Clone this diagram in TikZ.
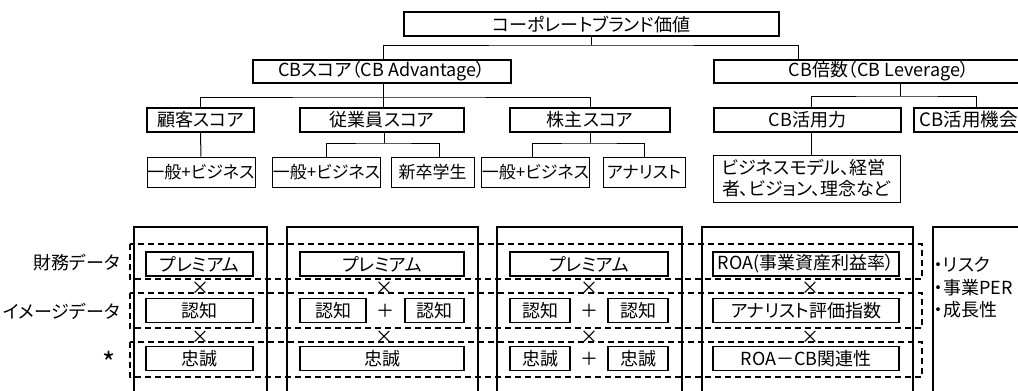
\documentclass[tikz,border=0pt]{standalone}
\usepackage{fontspec}
\setmainfont{Noto Sans CJK JP}[RawFeature={+palt}]
\begin{document}
\begin{tikzpicture}[x=1pt,y=-1pt,
  font=\fontsize{18}{21}\selectfont,
  bx/.style={draw, line width=1.8pt, inner sep=0pt, minimum height=24pt},
  tb/.style={draw, line width=1pt, inner sep=0pt, minimum height=30pt},
  ib/.style={draw, line width=1.8pt, inner sep=0pt, minimum height=24pt},
  conn/.style={line width=1pt},
  colline/.style={line width=1.8pt},
  dsh/.style={line width=1.2pt, dash pattern=on 6pt off 4pt},
  op/.style={inner sep=0pt},
  lab/.style={inner sep=0pt, anchor=east},
  note/.style={inner sep=0pt, anchor=west}]
\fill[white] (0,0) rectangle (1018,391);
\useasboundingbox (0,0) rectangle (1018,391);

% ---- tree ----
\node[bx, minimum width=375] (top) at (591.5,24) {コーポレートブランド価値};
\node[bx, minimum width=258, minimum height=23] (cbs) at (382,71.5) {CBスコア（CB Advantage）};
\node[bx, minimum width=330, minimum height=23] (cbb) at (879,71.5) {CB倍数（CB Leverage）};

\node[bx, minimum width=107] (cust) at (200.5,120) {顧客スコア};
\node[bx, minimum width=164] (emp) at (382,120) {従業員スコア};
\node[bx, minimum width=160] (sh) at (590,120) {株主スコア};
\node[bx, minimum width=187] (use) at (807.5,120) {CB活用力};
\node[bx, anchor=west, minimum width=150pt] (opp) at (913,120) {\makebox[138pt][l]{\fontsize{18.5}{21}\selectfont CB活用機会}};

\begin{scope}[font=\fontsize{17}{21}\selectfont]
\node[tb, minimum width=108] (c1) at (201,172) {一般+ビジネス};
\node[tb, minimum width=107] (e1) at (326.5,172) {一般+ビジネス};
\node[tb, minimum width=83] (e2) at (432.5,172) {新卒学生};
\node[tb, minimum width=103] (s1) at (535.5,172) {一般+ビジネス};
\node[tb, minimum width=82] (s2) at (644,172) {アナリスト};
\end{scope}
\node[tb, minimum width=187, minimum height=47, align=left] (bm) at (806.5,178.5) {ビジネスモデル、経営\\者、ビジョン、理念など};

% connectors
\draw[conn] (top.south) -- (591.5,45) coordinate (j1);
\draw[conn] (383,0 |- cbs.north) |- (j1) -| (798,0 |- cbb.north);
\draw[conn] (383,0 |- cbs.south) -- (383,0 |- emp.north);
\coordinate (j2) at (383,97);
\draw[conn] (cust.north) |- (j2) -| (sh.north);
\draw[conn] (900,0 |- cbb.south) -- (900,96) coordinate (j3);
\draw[conn] (811,0 |- use.north) |- (j3) -| (976,0 |- opp.north);

\draw[conn] (cust.south) -- (c1.north);
\draw[conn] (384,0 |- emp.south) -- (384,143) coordinate (j4);
\draw[conn] (326,0 |- e1.north) |- (j4) -| (439,0 |- e2.north);
\draw[conn] (sh.south) -- (590,143) coordinate (j5);
\draw[conn] (532,0 |- s1.north) |- (j5) -| (s2.north);
\draw[conn] (811,0 |- use.south) -- (811,0 |- bm.north);

% ---- lower section ----
\draw[colline] (134,392) |- (267,227) -- (267,392);
\draw[colline] (287,392) |- (478,227) -- (478,392);
\draw[colline] (497,392) |- (682,227) -- (682,392);
\draw[colline] (702,392) |- (913,227) -- (913,392);
\draw[colline] (933,392) |- (1030,227);

\draw[dsh] (130,244) rectangle (922,279);
\draw[dsh] (130,293) rectangle (922,328);
\draw[dsh] (130,342) rectangle (922,377);

\node[lab] (l1) at (120,262.5) {財務データ};
\node[lab] (l2) at (120,311) {イメージデータ};
\node[lab, font=\fontsize{28}{28}\selectfont] (l3) at (116,362) {*};

% row 1
\node[ib, minimum width=107] (p1) at (199.5,264) {プレミアム};
\node[ib, minimum width=164] (p2) at (382,264) {プレミアム};
\node[ib, minimum width=158] (p3) at (589,264) {プレミアム};
\node[ib, minimum width=186] (p4) at (806,264) {ROA(事業資産利益率）};
% row 2
\node[ib, minimum width=107] (n1) at (199.5,310.5) {認知};
\node[ib, minimum width=66] (n2a) at (333,310.5) {認知};
\node[ib, minimum width=59] (n2b) at (434.5,310.5) {認知};
\node[ib, minimum width=60] (n3a) at (540,310.5) {認知};
\node[ib, minimum width=60] (n3b) at (638,310.5) {認知};
\node[ib, minimum width=186] (n4) at (806,310.5) {アナリスト評価指数};
% row 3
\node[ib, minimum width=107] (t1) at (199.5,358.5) {忠誠};
\node[ib, minimum width=164] (t2) at (382,358.5) {忠誠};
\node[ib, minimum width=60] (t3a) at (540,358.5) {忠誠};
\node[ib, minimum width=60] (t3b) at (638,358.5) {忠誠};
\node[ib, minimum width=186] (t4) at (806,358.5) {ROA－CB関連性};

% operators
\node[op] (pl1) at (385.5,310.5) {＋};
\node[op] (pl2) at (589,310.5) {＋};
\node[op] (pl3) at (589,358.5) {＋};
\foreach \x/\n in {200/a,384/b,589/c,810/d}{
  \node[op] (xa\n) at (\x,288) {×};
  \node[op] (xb\n) at (\x,337.5) {×};
}

% right column notes
\node[note] (r1) at (934,265) {・リスク};
\node[note] (r2) at (934,288) {・事業PER};
\node[note] (r3) at (934,310) {・成長性};
\end{tikzpicture}
\end{document}
